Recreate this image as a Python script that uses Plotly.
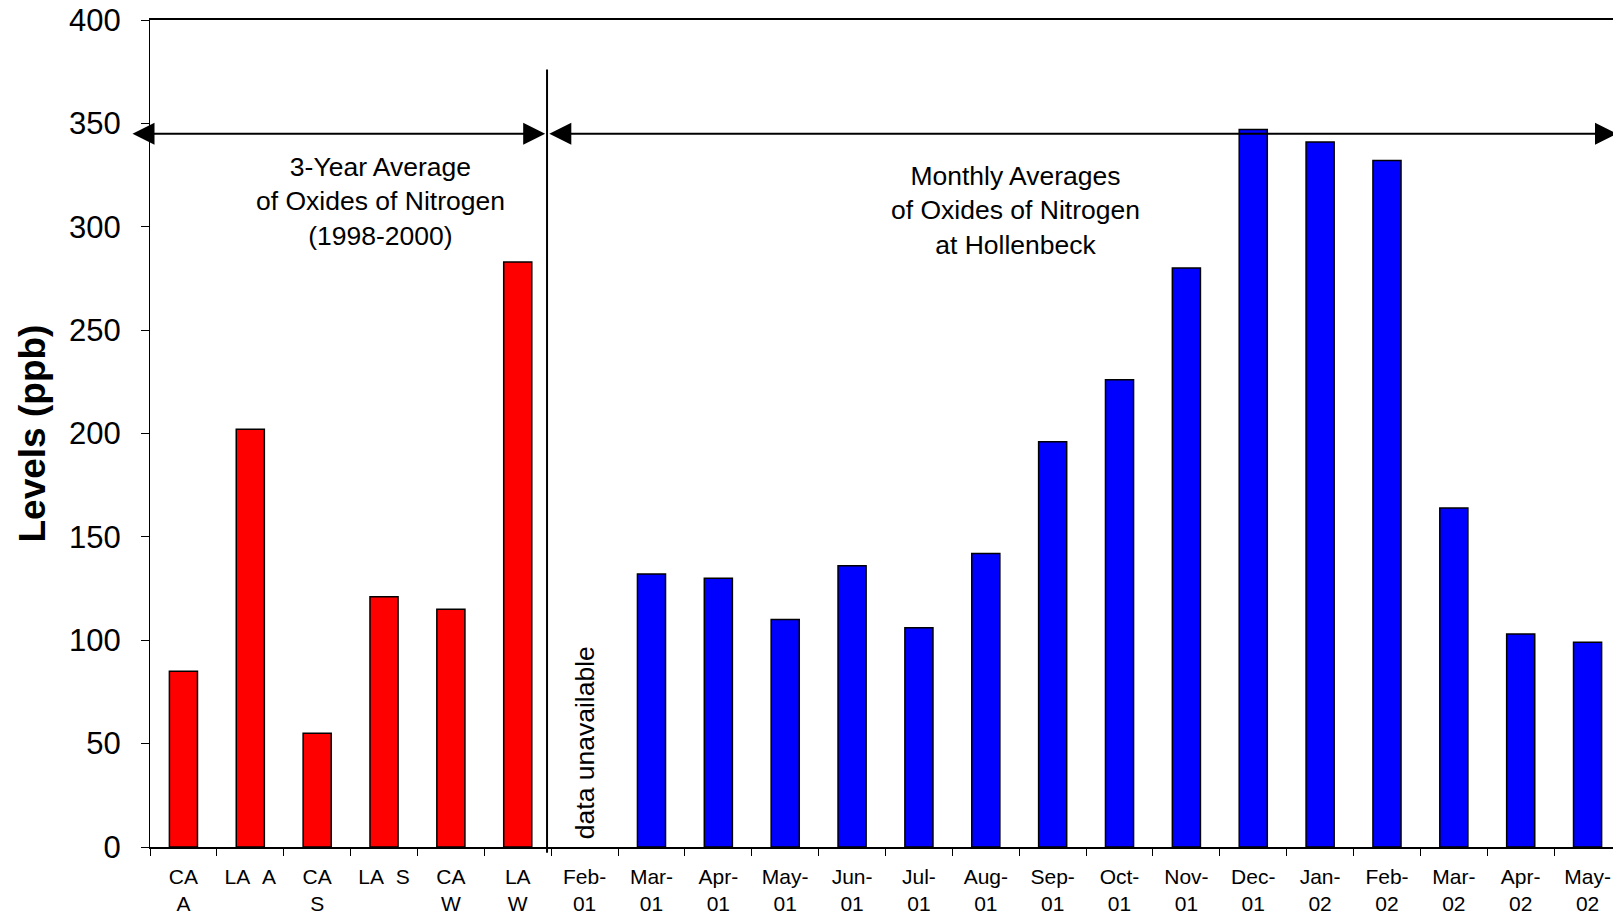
import plotly.graph_objects as go

# ---- data ----
site_labels = ["CA<br>A", "LA\u00a0\u00a0A", "CA<br>S", "LA\u00a0\u00a0S", "CA<br>W", "LA<br>W"]
site_values = [85, 202, 55, 121, 115, 283]

month_labels = ["Feb-<br>01", "Mar-<br>01", "Apr-<br>01", "May-<br>01", "Jun-<br>01", "Jul-<br>01",
                "Aug-<br>01", "Sep-<br>01", "Oct-<br>01", "Nov-<br>01", "Dec-<br>01", "Jan-<br>02",
                "Feb-<br>02", "Mar-<br>02", "Apr-<br>02", "May-<br>02"]
month_values = [None, 132, 130, 110, 136, 106, 142, 196, 226, 280, 347, 341, 332, 164, 103, 99]

y_ticks = [0, 50, 100, 150, 200, 250, 300, 350, 400]

FONT = "Liberation Sans, Arial, sans-serif"

fig = go.Figure()
fig.add_trace(go.Bar(x=site_labels, y=site_values, width=0.42,
                     marker=dict(color="#FF0000", line=dict(color="black", width=1.5)),
                     showlegend=False))
fig.add_trace(go.Bar(x=month_labels, y=month_values, width=0.42,
                     marker=dict(color="#0000FF", line=dict(color="black", width=1.5)),
                     showlegend=False))

# page body has an 8px margin: figure is sized so that the plot area lands at x 150..1621, y 20..847
fig.update_layout(
    width=1613, height=909,
    margin=dict(l=142, r=0, t=12, b=70),
    paper_bgcolor="white", plot_bgcolor="white",
    barmode="overlay",
    font=dict(family=FONT, color="black"),
    xaxis=dict(type="category", categoryorder="array",
               categoryarray=site_labels + month_labels,
               range=[-0.5, 21.5], automargin=False,
               showline=True, linecolor="black", linewidth=1.5, mirror=True,
               ticks="outside", tickson="boundaries", ticklen=7, tickcolor="black",
               tickfont=dict(size=21, family=FONT), ticklabelstandoff=10,
               showgrid=False, zeroline=False),
    yaxis=dict(range=[0, 400], tickvals=y_ticks, automargin=False,
               showline=True, linecolor="black", linewidth=1.2,
               ticks="outside", ticklen=8, tickcolor="black",
               tickfont=dict(size=31, family=FONT), ticklabelstandoff=14,
               ticklabeloverflow="allow",
               showgrid=False, zeroline=False),
)

# divider line
fig.add_shape(type="line", xref="paper", yref="paper",
              x0=(5.438 + 0.5) / 22, x1=(5.438 + 0.5) / 22, y0=-0.007, y1=0.94,
              line=dict(color="black", width=2))

# double-headed arrows
for x0, x1 in [(-0.784, 5.41), (5.45, 21.44)]:
    fig.add_annotation(x=x1, y=345, ax=x0, ay=345, xref="x", yref="y", axref="x", ayref="y",
                       text="", showarrow=True, arrowside="end+start",
                       arrowhead=2, startarrowhead=2, arrowsize=2.2, startarrowsize=2.2,
                       arrowwidth=2, arrowcolor="black", standoff=0, startstandoff=0)

fig.add_annotation(x=2.949, y=312, xref="x", yref="y", showarrow=False,
                   text="3-Year Average<br>of Oxides of Nitrogen<br>(1998-2000)",
                   font=dict(size=26.5, family=FONT), align="center", yanchor="middle")
fig.add_annotation(x=12.44, y=308, xref="x", yref="y", showarrow=False,
                   text="Monthly Averages<br>of Oxides of Nitrogen<br>at Hollenbeck",
                   font=dict(size=26.5, family=FONT), align="center", yanchor="middle")
fig.add_annotation(x=6, y=50.5, xref="x", yref="y", showarrow=False,
                   text="data unavailable", textangle=-90,
                   font=dict(size=26.5, family=FONT))

# y-axis title
fig.add_annotation(x=0, y=0.5, xref="paper", yref="paper", xshift=-118,
                   xanchor="center", yanchor="middle",
                   showarrow=False, text="<b>Levels (ppb)</b>", textangle=-90,
                   font=dict(size=37, family=FONT))

fig.write_html("out.html")
